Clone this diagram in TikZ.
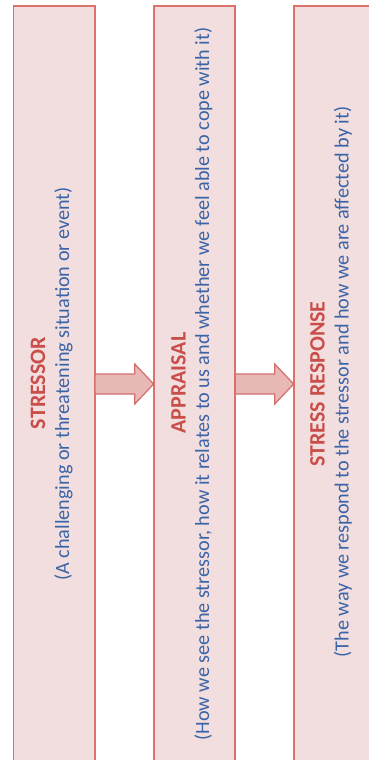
\documentclass[tikz,border=0pt]{standalone}
\usepackage{fontspec}
\setmainfont{Carlito}
\usetikzlibrary{calc}

\definecolor{boxfill}{HTML}{F2DEDE}
\definecolor{boxline}{HTML}{DC726E}
\definecolor{arrowfill}{HTML}{E8B8B7}
\definecolor{arrowline}{HTML}{D36F6B}
\definecolor{titlered}{HTML}{C94E4A}
\definecolor{noteblue}{HTML}{3A64A8}

\tikzset{
  stagebox/.style={draw=boxline, fill=boxfill, line width=1.6pt, rectangle,
    minimum width=81.5pt, minimum height=756pt, inner sep=0pt, outer sep=0pt,
    anchor=north west},
  stagetitle/.style={text=titlered, font=\fontsize{22}{26}\selectfont\bfseries,
    rotate=90, anchor=base, inner sep=0pt},
  stagenote/.style={text=noteblue, font=\fontsize{20.2}{24}\selectfont,
    rotate=90, anchor=base, inner sep=0pt},
  blockarrow/.style={draw=arrowline, fill=arrowfill, line width=1.2pt, line join=miter},
}

\begin{document}
\begin{tikzpicture}[x=1pt, y=-1pt]
  \useasboundingbox (0,0) rectangle (369,760);

  % the three stages
  \node[stagebox] (stressor)  at (13.5,6) {};
  \node[stagebox] (appraisal) at (153.7,6) {};
  \node[stagebox] (response)  at (293.7,6) {};

  % labels, reading bottom to top
  \node[stagetitle] (t1) at ($(stressor.west)+(31.5,-1)$) {STRESSOR};
  \node[stagenote]  (n1) at ($(stressor.west)+(55.5,0)$) {(A challenging or threatening situation or event)};

  \node[stagetitle] (t2) at ($(appraisal.west)+(32,-1)$) {APPRAISAL};
  \node[stagenote]  (n2) at ($(appraisal.west)+(55.5,0)$) {(How we see the stressor, how it relates to us and whether we feel able to cope with it)};

  \node[stagetitle] (t3) at ($(response.west)+(31,0)$) {STRESS RESPONSE};
  \node[stagenote]  (n3) at ($(response.west)+(55,-2)$) {(The way we respond to the stressor and how we are affected by it)};

  % block arrows between the stages
  \draw[blockarrow]
    ($(stressor.east)+(0,-10)$) -- ($(appraisal.west)+(-19,-10)$)
    -- ($(appraisal.west)+(-19,-20)$) -- (appraisal.west)
    -- ($(appraisal.west)+(-19,20)$) -- ($(appraisal.west)+(-19,10)$)
    -- ($(stressor.east)+(0,10)$) -- cycle;
  \draw[blockarrow]
    ($(appraisal.east)+(0,-10)$) -- ($(response.west)+(-19,-10)$)
    -- ($(response.west)+(-19,-20)$) -- (response.west)
    -- ($(response.west)+(-19,20)$) -- ($(response.west)+(-19,10)$)
    -- ($(appraisal.east)+(0,10)$) -- cycle;
\end{tikzpicture}
\end{document}
